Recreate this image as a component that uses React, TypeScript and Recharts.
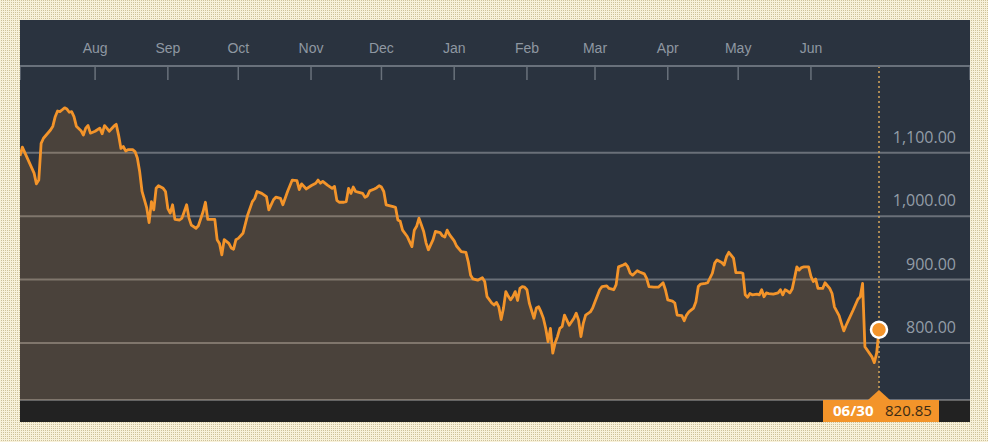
import React from "react";
import {
  ComposedChart,
  Area,
  XAxis,
  YAxis,
  CartesianGrid,
  ReferenceLine,
  ReferenceDot,
} from "recharts";

// daily closes, 30 Jun 2015 -> 30 Jun 2016
const dates = [
  "2015-06-30", "2015-07-01", "2015-07-06", "2015-07-07", "2015-07-08", "2015-07-09", "2015-07-10",
  "2015-07-13", "2015-07-14", "2015-07-15", "2015-07-16", "2015-07-17", "2015-07-18", "2015-07-19",
  "2015-07-20", "2015-07-21", "2015-07-22", "2015-07-23", "2015-07-24", "2015-07-26", "2015-07-27",
  "2015-07-28", "2015-07-29", "2015-07-30", "2015-08-01", "2015-08-03", "2015-08-04", "2015-08-05",
  "2015-08-06", "2015-08-07", "2015-08-09", "2015-08-10", "2015-08-11", "2015-08-12", "2015-08-13",
  "2015-08-14", "2015-08-15", "2015-08-17", "2015-08-18", "2015-08-19", "2015-08-20", "2015-08-21",
  "2015-08-23", "2015-08-24", "2015-08-25", "2015-08-26", "2015-08-27", "2015-08-28", "2015-08-30",
  "2015-08-31", "2015-09-01", "2015-09-02", "2015-09-03", "2015-09-04", "2015-09-06", "2015-09-07",
  "2015-09-09", "2015-09-10", "2015-09-11", "2015-09-13", "2015-09-14", "2015-09-16", "2015-09-17",
  "2015-09-18", "2015-09-20", "2015-09-21", "2015-09-22", "2015-09-23", "2015-09-24", "2015-09-25",
  "2015-09-27", "2015-09-28", "2015-09-29", "2015-09-30", "2015-10-01", "2015-10-03", "2015-10-05",
  "2015-10-07", "2015-10-08", "2015-10-09", "2015-10-11", "2015-10-13", "2015-10-14", "2015-10-16",
  "2015-10-17", "2015-10-19", "2015-10-20", "2015-10-22", "2015-10-24", "2015-10-26", "2015-10-27",
  "2015-10-28", "2015-10-30", "2015-11-01", "2015-11-03", "2015-11-04", "2015-11-05", "2015-11-06",
  "2015-11-08", "2015-11-10", "2015-11-11", "2015-11-12", "2015-11-13", "2015-11-15", "2015-11-16",
  "2015-11-17", "2015-11-18", "2015-11-19", "2015-11-20", "2015-11-21", "2015-11-23", "2015-11-24",
  "2015-11-25", "2015-11-26", "2015-11-28", "2015-11-29", "2015-11-30", "2015-12-01", "2015-12-02",
  "2015-12-03", "2015-12-06", "2015-12-07", "2015-12-08", "2015-12-09", "2015-12-10", "2015-12-12",
  "2015-12-13", "2015-12-14", "2015-12-15", "2015-12-16", "2015-12-17", "2015-12-19", "2015-12-20",
  "2015-12-21", "2015-12-23", "2015-12-24", "2015-12-26", "2015-12-27", "2015-12-28", "2015-12-29",
  "2015-12-30", "2016-01-01", "2016-01-02", "2016-01-04", "2016-01-06", "2016-01-07", "2016-01-08",
  "2016-01-09", "2016-01-11", "2016-01-13", "2016-01-14", "2016-01-15", "2016-01-17", "2016-01-18",
  "2016-01-19", "2016-01-20", "2016-01-21", "2016-01-22", "2016-01-23", "2016-01-24", "2016-01-25",
  "2016-01-26", "2016-01-27", "2016-01-28", "2016-01-29", "2016-01-30", "2016-01-31", "2016-02-01",
  "2016-02-02", "2016-02-04", "2016-02-05", "2016-02-06", "2016-02-07", "2016-02-08", "2016-02-09",
  "2016-02-10", "2016-02-11", "2016-02-12", "2016-02-13", "2016-02-14", "2016-02-15", "2016-02-16",
  "2016-02-17", "2016-02-18", "2016-02-19", "2016-02-21", "2016-02-22", "2016-02-23", "2016-02-24",
  "2016-02-25", "2016-02-26", "2016-02-28", "2016-02-29", "2016-03-01", "2016-03-03", "2016-03-04",
  "2016-03-06", "2016-03-07", "2016-03-09", "2016-03-10", "2016-03-11", "2016-03-13", "2016-03-14",
  "2016-03-15", "2016-03-16", "2016-03-17", "2016-03-19", "2016-03-20", "2016-03-22", "2016-03-23",
  "2016-03-24", "2016-03-26", "2016-03-28", "2016-03-30", "2016-03-31", "2016-04-01", "2016-04-03",
  "2016-04-04", "2016-04-05", "2016-04-07", "2016-04-08", "2016-04-09", "2016-04-10", "2016-04-12",
  "2016-04-13", "2016-04-14", "2016-04-15", "2016-04-17", "2016-04-18", "2016-04-20", "2016-04-21",
  "2016-04-22", "2016-04-24", "2016-04-25", "2016-04-26", "2016-04-27", "2016-04-29", "2016-04-30",
  "2016-05-02", "2016-05-03", "2016-05-04", "2016-05-05", "2016-05-06", "2016-05-07", "2016-05-09",
  "2016-05-10", "2016-05-11", "2016-05-12", "2016-05-13", "2016-05-14", "2016-05-16", "2016-05-18",
  "2016-05-19", "2016-05-20", "2016-05-21", "2016-05-22", "2016-05-23", "2016-05-24", "2016-05-25",
  "2016-05-26", "2016-05-27", "2016-05-28", "2016-05-29", "2016-05-31", "2016-06-01", "2016-06-02",
  "2016-06-03", "2016-06-04", "2016-06-06", "2016-06-07", "2016-06-09", "2016-06-10", "2016-06-11",
  "2016-06-13", "2016-06-14", "2016-06-15", "2016-06-16", "2016-06-17", "2016-06-19", "2016-06-21",
  "2016-06-22", "2016-06-23", "2016-06-24", "2016-06-27", "2016-06-28", "2016-06-29", "2016-06-30",
];

const closes = [
  1095, 1109, 1068, 1051, 1057, 1115, 1123,
  1136, 1142, 1157, 1166, 1165, 1168, 1171,
  1169, 1164, 1165, 1157, 1142, 1135, 1128,
  1139, 1143, 1131, 1134, 1139, 1130, 1143,
  1139, 1134, 1142, 1145, 1128, 1107, 1110,
  1103, 1105, 1105, 1102, 1092, 1070, 1039,
  1013, 990, 1023, 1010, 1044, 1048, 1044,
  1039, 1012, 1005, 1018, 995, 994, 997,
  1018, 997, 986, 981, 985, 1007, 1022,
  995, 995, 995, 963, 957, 939, 963,
  957, 950, 948, 963, 965, 973, 1002,
  1023, 1028, 1039, 1036, 1031, 1010, 1026,
  1030, 1028, 1018, 1039, 1057, 1056, 1042,
  1051, 1043, 1048, 1052, 1057, 1052, 1055,
  1049, 1044, 1047, 1025, 1022, 1022, 1023,
  1044, 1036, 1046, 1039, 1038, 1036, 1030,
  1032, 1040, 1043, 1045, 1048, 1046, 1039,
  1018, 1015, 1014, 994, 992, 978, 968,
  960, 952, 978, 984, 997, 976, 958,
  947, 963, 976, 974, 969, 967, 978,
  971, 961, 953, 944, 943, 928, 907,
  901, 899, 903, 897, 873, 863, 860,
  864, 857, 837, 855, 881, 874, 868,
  873, 881, 867, 886, 889, 888, 884,
  863, 839, 855, 857, 849, 839, 823,
  802, 823, 784, 800, 810, 823, 826,
  844, 836, 828, 839, 847, 836, 810,
  831, 844, 849, 855, 865, 884, 889,
  890, 886, 884, 892, 920, 923, 925,
  920, 910, 907, 914, 912, 909, 902,
  889, 888, 888, 895, 884, 868, 866,
  863, 844, 843, 835, 844, 849, 855,
  865, 889, 893, 894, 895, 910, 926,
  931, 927, 923, 936, 943, 934, 911,
  911, 910, 876, 872, 878, 876, 877,
  876, 884, 873, 879, 878, 877, 879,
  884, 876, 884, 882, 879, 885, 902,
  920, 915, 919, 920, 920, 905, 897,
  901, 886, 886, 895, 886, 878, 857,
  843, 831, 819, 828, 836, 852, 869,
  873, 894, 794, 778, 769, 784, 820.85,
];

const monthStarts = [
  "2015-08-01", "2015-09-01", "2015-10-01", "2015-11-01", "2015-12-01", "2016-01-01",
  "2016-02-01", "2016-03-01", "2016-04-01", "2016-05-01", "2016-06-01",
];
const monthLabels = ["Aug", "Sep", "Oct", "Nov", "Dec", "Jan", "Feb", "Mar", "Apr", "May", "Jun"];
const priceTicks = [800, 900, 1000, 1100];

const ORANGE = "#f3942a";
const W = 950;
const H = 402;
const DATA_W = 859; // width used by the year of data; the rest is right-hand gutter

const toTime = (d: string) => Date.parse(d);
const data = dates.map((d, i) => ({ t: toTime(d), v: closes[i] }));
const first = data[0];
const last = data[data.length - 1];
const xEnd = first.t + ((last.t - first.t) * W) / DATA_W;
const monthTimes = monthStarts.map(toTime);
const xTicks = [first.t, ...monthTimes, xEnd];

const fmtPrice = (v: number) =>
  v.toLocaleString("en-US", { minimumFractionDigits: 2, maximumFractionDigits: 2 });

const lastLabel = (() => {
  const [, m, d] = dates[dates.length - 1].split("-");
  return `${m}/${d}`;
})();

function MonthTick(props: any) {
  const { x, y, payload } = props;
  const idx = monthTimes.indexOf(payload.value);
  return (
    <g>
      <line x1={x} x2={x} y1={y} y2={y + 14} stroke="#69717b" strokeWidth={1.5} />
      {idx >= 0 && (
        <text
          x={x}
          y={y - 13}
          textAnchor="middle"
          fill="#8f98a2"
          fontSize={14}
          fontFamily="'Liberation Sans', Arial, sans-serif"
        >
          {monthLabels[idx]}
        </text>
      )}
    </g>
  );
}

function PriceTick(props: any) {
  const { y, payload } = props;
  // right-aligned 14px in from the panel edge
  return (
    <text
      x={W - 14}
      y={y - 10}
      textAnchor="end"
      fill="#939da7"
      fontSize={16}
      fontFamily="'Open Sans', sans-serif"
    >
      {fmtPrice(payload.value)}
    </text>
  );
}

function LastMarker(props: any) {
  const { viewBox } = props;
  if (!viewBox) return null;
  const x = viewBox.x;
  const bottom = viewBox.y + viewBox.height;
  return (
    <g>
      <path d={`M${x - 11},${bottom} L${x},${bottom - 10} L${x + 11},${bottom} Z`} fill={ORANGE} />
      <rect x={x - 56} y={bottom} width={116} height={22} fill={ORANGE} />
      <text
        x={x - 46}
        y={bottom + 16}
        fill="#ffffff"
        fontWeight="bold"
        fontSize={15}
        fontFamily="'Open Sans', sans-serif"
      >
        {lastLabel}
      </text>
      <text x={x + 6} y={bottom + 16} fill="#3b2a14" fontSize={15} fontFamily="'Open Sans', sans-serif">
        {fmtPrice(last.v)}
      </text>
    </g>
  );
}

export default function App() {
  return (
    <div
      style={{
        position: "absolute",
        left: 0,
        top: 0,
        width: 988,
        height: 442,
        backgroundColor: "#f8f1da",
        backgroundImage: "conic-gradient(#cdc199 25%, transparent 0)",
        backgroundSize: "2px 2px",
      }}
    >
      <div
        style={{
          position: "absolute",
          left: 20,
          top: 20,
          width: W,
          height: H,
          background: "#2a333f",
        }}
      >
        <div
          style={{
            position: "absolute",
            left: 0,
            bottom: 0,
            width: W,
            height: 22,
            background: "#222222",
          }}
        />
        <ComposedChart
          width={W}
          height={H}
          data={data}
          margin={{ top: 0, right: 0, bottom: 22, left: 0 }}
          style={{ position: "absolute", left: 0, top: 0 }}
        >
          <CartesianGrid
            vertical={false}
            stroke="#ffffff"
            strokeOpacity={0.3}
            strokeWidth={2}
          />
          <XAxis
            dataKey="t"
            type="number"
            orientation="top"
            domain={[first.t, xEnd]}
            ticks={xTicks}
            interval={0}
            height={46}
            tickSize={0}
            tickMargin={0}
            tickLine={false}
            axisLine={{ stroke: "#69717b", strokeWidth: 2 }}
            tick={<MonthTick />}
          />
          <YAxis
            orientation="right"
            mirror
            width={80}
            domain={[710, 1237]}
            ticks={priceTicks}
            allowDataOverflow
            axisLine={false}
            tickLine={false}
            tick={<PriceTick />}
          />
          <Area
            type="linear"
            dataKey="v"
            stroke={ORANGE}
            strokeWidth={2.8}
            strokeLinejoin="round"
            fill={ORANGE}
            fillOpacity={0.16}
            dot={false}
            activeDot={false}
            isAnimationActive={false}
          />
          <ReferenceLine
            x={last.t}
            stroke="#d6a65c"
            strokeWidth={1.5}
            strokeDasharray="2 3"
            label={<LastMarker />}
          />
          <ReferenceDot
            x={last.t}
            y={last.v}
            r={8}
            fill={ORANGE}
            stroke="#ffffff"
            strokeWidth={2.5}
          />
        </ComposedChart>
      </div>
    </div>
  );
}
